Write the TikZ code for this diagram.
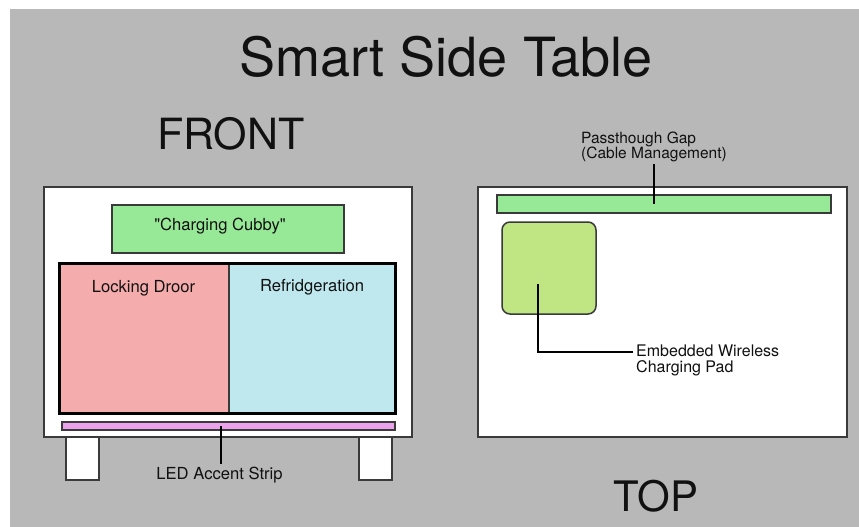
\documentclass[tikz,border=0pt]{standalone}
\usepackage{fontspec}
\setmainfont{TeX Gyre Heros}
% same face without the TeX input mapping, so " stays a straight quote
\newfontfamily\straightfont{TeX Gyre Heros}
\usetikzlibrary{calc}

\definecolor{bggray}{HTML}{B8B8B8}
\definecolor{edgegray}{HTML}{3A3A3A}
\definecolor{cubbygreen}{HTML}{97E997}
\definecolor{lockpink}{HTML}{F4ACAC}
\definecolor{fridgeblue}{HTML}{BEE8EE}
\definecolor{ledviolet}{HTML}{EBA1EB}
\definecolor{padgreen}{HTML}{C0E684}
\definecolor{inkblack}{HTML}{111111}

\tikzset{
  box/.style={draw=edgegray, line width=1.3pt, inner sep=0pt, outer sep=0pt, anchor=north west},
  panel/.style={box, line width=1.5pt},
  leader/.style={draw=black, line width=2pt},
  heading/.style={anchor=base, text=inkblack, inner sep=0pt},
  lbl/.style={text=inkblack, inner sep=2pt, font=\fontsize{16.6}{16.6}\selectfont},
}

\begin{document}
\begin{tikzpicture}[x=1pt, y=-1pt]
  \useasboundingbox (0,0) rectangle (859,527);
  \fill[white] (0,0) rectangle (859,527);
  \fill[bggray] (10,9.5) rectangle (859,527);

  % headings
  \node[heading, font=\fontsize{54}{54}\selectfont] (title) at (446,77) {Smart Side Table};
  \node[heading, font=\fontsize{43}{43}\selectfont] (front) at (231,149) {FRONT};
  \node[heading, font=\fontsize{42}{42}\selectfont] (top) at (656,511) {TOP};

  % ---------- front view ----------
  \node[box, fill=white, minimum width=33pt, minimum height=43pt] (legL) at (66,437) {};
  \node[box, fill=white, minimum width=33pt, minimum height=43pt] (legR) at (359,437) {};
  \node[box, fill=white, minimum width=368pt, minimum height=250pt] (body) at (44,187) {};
  \node[panel, fill=cubbygreen, minimum width=232pt, minimum height=48pt] (cubby) at (112,205) {};
  \node[lbl, anchor=base] (cubbytxt) at (220,230) {\straightfont "Charging Cubby"};

  \node[panel, fill=lockpink, minimum width=170pt, minimum height=150pt] (lock) at (59,263) {};
  \node[panel, fill=fridgeblue, minimum width=166pt, minimum height=150pt] (fridge) at (229,263) {};
  \draw[black, line width=3pt] (lock.north west) rectangle (fridge.south east);
  \node[lbl, anchor=base] (locktxt) at (143.5,292) {Locking Droor};
  \node[lbl, anchor=base] (fridgetxt) at (312,291) {Refridgeration};

  \node[panel, fill=ledviolet, minimum width=333pt, minimum height=8pt] (led) at (62,422) {};
  \node[lbl, anchor=base] (ledtxt) at (219.5,479) {LED Accent Strip};
  \draw[leader] ([xshift=-7.5pt]led.center) -- ([xshift=-7.5pt]led.center |- ledtxt.north);

  % ---------- top view ----------
  \node[box, fill=white, minimum width=369pt, minimum height=250pt] (topbody) at (478,187) {};
  \node[panel, fill=cubbygreen, minimum width=334pt, minimum height=18pt] (gap) at (497,195) {};
  \node[panel, fill=padgreen, rounded corners=8pt, minimum width=94pt, minimum height=92pt] (pad) at (502,222) {};

  \node[lbl, anchor=north west, align=left, font=\fontsize{15.5}{15.5}\selectfont]
    (gaptxt) at (579,129.5) {Passthough Gap\\(Cable Management)};
  \coordinate (gappt) at ($(gap.center)+(-10,0)$);
  \draw[leader] (gaptxt.south -| gappt) -- (gappt);

  \node[lbl, anchor=north west, align=left, inner sep=3pt, font=\fontsize{16}{16}\selectfont]
    (padtxt) at (633,341.5) {Embedded Wireless\\Charging Pad};
  \coordinate (padpt) at ($(pad.center)+(-11,16)$);
  \draw[leader] (padpt) |- ([yshift=-10.5pt]padtxt.north west);
\end{tikzpicture}
\end{document}
